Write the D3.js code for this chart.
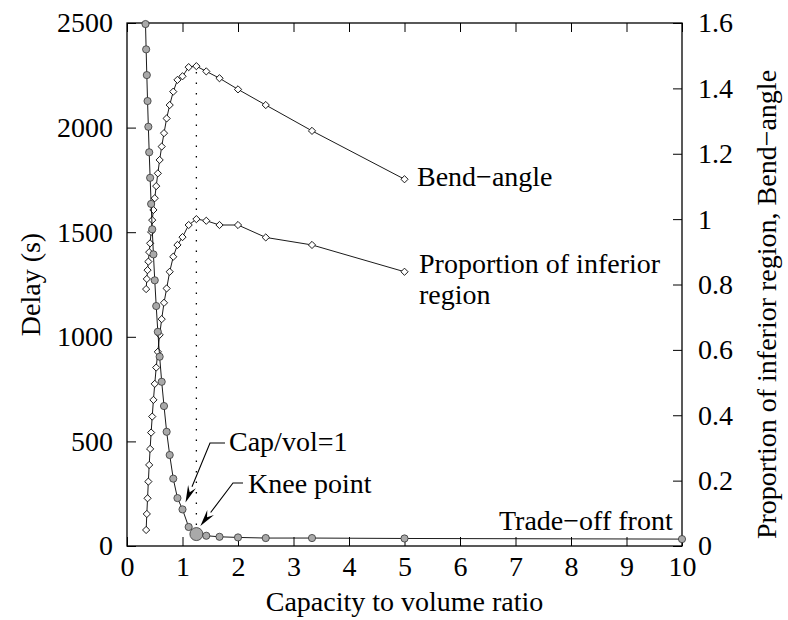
<!DOCTYPE html>
<html>
<head>
<meta charset="utf-8">
<script src="https://cdn.jsdelivr.net/npm/d3@7"></script>
<style>
  html, body { margin: 0; padding: 0; background: #fff; }
</style>
</head>
<body>
<svg id="chart" width="788" height="620"></svg>
<script>
// Capacity-to-volume ratios: 10/n for n = 30 … 1
const ratioN = [30,29,28,27,26,25,24,23,22,21,20,19,18,17,16,15,14,13,12,11,10,9,8,7,6,5,4,3,2,1];

// Delay (s) along the trade-off front, same order as ratioN
const delay = [2495,2374,2251,2127,2004,1882,1760,1635,1514,1394,1270,1147,1024,905,785,
               669,546,435,322,229,175,91,57,49,44,41,38,38,36,33];

// Right-axis series, n = 29 … 2
const curveN = [29,28,27,26,25,24,23,22,21,20,19,18,17,16,15,14,13,12,11,10,9,8,7,6,5,4,3,2];
const bendAngle = [0.786,0.817,0.844,0.870,0.899,0.926,0.961,0.997,1.028,1.064,1.101,1.140,
                   1.181,1.222,1.263,1.308,1.349,1.390,1.426,1.437,1.465,1.468,1.452,1.431,
                   1.397,1.349,1.270,1.122];
const inferiorShare = [0.049,0.098,0.146,0.197,0.248,0.297,0.347,0.396,0.447,0.496,0.546,0.594,
                       0.646,0.694,0.744,0.788,0.839,0.885,0.921,0.945,0.982,1.000,0.995,0.982,
                       0.982,0.944,0.921,0.839];

const xTicks = [0,1,2,3,4,5,6,7,8,9,10];
const delayTicks = [0,500,1000,1500,2000,2500];
const rightTicks = [0,0.2,0.4,0.6,0.8,1,1.2,1.4,1.6];
const kneeRatio = 1.25;
const capVolRatio = 1;

const svg = d3.select("#chart");
const L = 127, R = 682, T = 23, B = 546;
const FS = 28;
const FONT = "'Liberation Serif', 'Nimbus Roman', 'Nimbus Roman No9 L', 'TeX Gyre Termes', FreeSerif, Times, 'DejaVu Serif', serif";

const x = d3.scaleLinear().domain([0, 10]).range([L, R]);
const yL = d3.scaleLinear().domain([0, 2500]).range([B, T]);
const yR = d3.scaleLinear().domain([0, 1.6]).range([B, T]);

const front = ratioN.map((n, i) => ({ r: 10 / n, v: delay[i] }));
const bend = curveN.map((n, i) => ({ r: 10 / n, v: bendAngle[i] }));
const share = curveN.map((n, i) => ({ r: 10 / n, v: inferiorShare[i] }));

// Axes (ticks point inward)
const TL = 9;
function styleAxis(g) {
  g.attr("font-family", null).attr("font-size", null);
  g.select(".domain").remove();
  g.selectAll(".tick line").attr("stroke", "#000").attr("stroke-width", 1);
  g.selectAll(".tick text").attr("fill", "#000")
    .style("font-family", FONT).style("font-size", FS + "px");
}
svg.append("g").attr("transform", `translate(0,${B})`)
  .call(d3.axisBottom(x).tickValues(xTicks).tickSize(-TL).tickPadding(10).tickFormat(d3.format("d")))
  .call(styleAxis);
svg.append("g").attr("transform", `translate(0,${T})`)
  .call(d3.axisTop(x).tickValues(xTicks).tickSize(-TL).tickFormat(""))
  .call(styleAxis);
svg.append("g").attr("transform", `translate(${L},0)`)
  .call(d3.axisLeft(yL).tickValues(delayTicks).tickSize(-TL).tickPadding(14).tickFormat(d3.format("d")))
  .call(styleAxis);
svg.append("g").attr("transform", `translate(${R},0)`)
  .call(d3.axisRight(yR).tickValues(rightTicks).tickSize(-TL).tickPadding(16)
    .tickFormat(d => String(+d.toFixed(1))))
  .call(styleAxis);

// Frame
svg.append("rect").attr("x", L).attr("y", T).attr("width", R - L).attr("height", B - T)
  .attr("fill", "none").attr("stroke", "#000").attr("stroke-width", 1.3);

const txt = svg.append("g").style("font-family", FONT).style("font-size", FS + "px").attr("fill", "#000");

// Axis titles
txt.append("text").attr("x", x(5)).attr("y", 611).attr("text-anchor", "middle")
  .text("Capacity to volume ratio");
txt.append("text").attr("transform", `translate(40,${(T + B) / 2}) rotate(-90)`)
  .attr("text-anchor", "middle").text("Delay (s)");
txt.append("text").attr("transform", `translate(776,${(T + B) / 2 + 20}) rotate(-90)`)
  .attr("text-anchor", "middle").text("Proportion of inferior region, Bend\u2212angle");

// Knee marker: dotted vertical line at the knee ratio
svg.append("line").attr("x1", x(kneeRatio)).attr("x2", x(kneeRatio))
  .attr("y1", yR(1.45)).attr("y2", yL(100))
  .attr("stroke", "#000").attr("stroke-width", 1.3).attr("stroke-dasharray", "1.5,9");

const lineL = d3.line().x(d => x(d.r)).y(d => yL(d.v));
const lineR = d3.line().x(d => x(d.r)).y(d => yR(d.v));

function diamondSeries(data) {
  svg.append("path").datum(data).attr("d", lineR)
    .attr("fill", "none").attr("stroke", "#000").attr("stroke-width", 0.9);
  svg.append("g").selectAll("path").data(data).join("path")
    .attr("transform", d => `translate(${x(d.r)},${yR(d.v)})`)
    .attr("d", "M0,-3.6L3.6,0L0,3.6L-3.6,0Z")
    .attr("fill", "#fff").attr("stroke", "#000").attr("stroke-width", 0.9);
}
diamondSeries(share);
diamondSeries(bend);

// Trade-off front
svg.append("path").datum(front).attr("d", lineL)
  .attr("fill", "none").attr("stroke", "#000").attr("stroke-width", 0.9);
svg.append("g").selectAll("circle").data(front).join("circle")
  .attr("cx", d => x(d.r)).attr("cy", d => yL(d.v))
  .attr("r", d => d.r === kneeRatio ? 6.5 : 3.6)
  .attr("fill", "#a9a9a9").attr("stroke", "#333").attr("stroke-width", 0.8);

// Callout arrows
function callout(tx, ty, cx, cy, ex) {
  const ang = Math.atan2(ty - cy, tx - cx);
  const len = 17, half = 4.2;
  const bx = tx - len * Math.cos(ang), by = ty - len * Math.sin(ang);
  svg.append("path").attr("d", `M${ex},${cy}L${cx},${cy}L${bx},${by}`)
    .attr("fill", "none").attr("stroke", "#000").attr("stroke-width", 1.1);
  const px = -Math.sin(ang) * half, py = Math.cos(ang) * half;
  svg.append("path")
    .attr("d", `M${tx},${ty}L${bx + px},${by + py}L${bx + 0.35 * (tx - bx)},${by + 0.35 * (ty - by)}L${bx - px},${by - py}Z`)
    .attr("fill", "#000");
}
const capPt = front.find(d => d.r === capVolRatio);
const kneePt = front.find(d => d.r === kneeRatio);
callout(x(capPt.r) + 3, yL(capPt.v) - 7, 210, 443, 225);
callout(x(kneePt.r) + 4, yL(kneePt.v) - 8, 233, 483, 243);

// Labels
const ann = [
  { t: "Cap/vol=1", x: 229, y: 451 },
  { t: "Knee point", x: 248, y: 493 },
  { t: "Bend\u2212angle", x: 417, y: 186 },
  { t: "Proportion of inferior", x: 419, y: 273 },
  { t: "region", x: 419, y: 304 },
  { t: "Trade\u2212off front", x: 499, y: 530 }
];
txt.append("g").selectAll("text").data(ann).join("text")
  .attr("x", d => d.x).attr("y", d => d.y).text(d => d.t);
</script>
</body>
</html>
